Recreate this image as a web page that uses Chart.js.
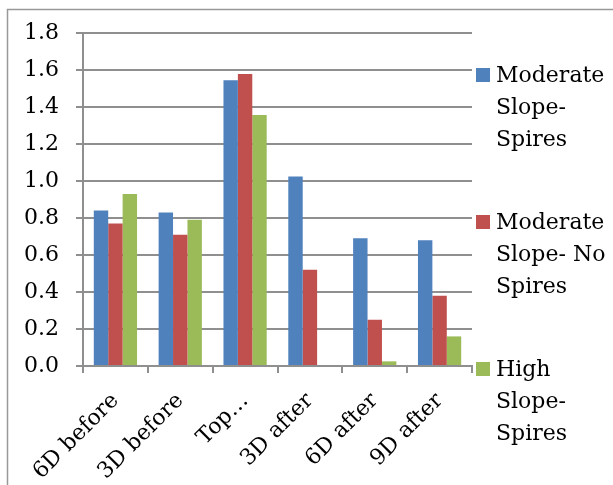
<!DOCTYPE html>
<html>
<head>
<meta charset="utf-8">
<script src="https://cdn.jsdelivr.net/npm/chart.js@4"></script>
<style>
  body { margin: 0; background: #fff; }
  canvas { display: block; }
</style>
</head>
<body>
<canvas id="chart" width="613" height="485"></canvas>
<script>
/* =========================
   DATA
   ========================= */

const categories = ["6D before", "3D before", "Top…", "3D after", "6D after", "9D after"];
const seriesNames = ["Moderate Slope-Spires", "Moderate Slope- No Spires", "High Slope-Spires"];
const moderateSpires = [0.84, 0.83, 1.545, 1.025, 0.69, 0.68];
const moderateNoSpires = [0.77, 0.71, 1.578, 0.52, 0.25, 0.38];
const highSpires = [0.93, 0.79, 1.357, 0, 0.025, 0.16];
const yTicks = [0, 0.2, 0.4, 0.6, 0.8, 1.0, 1.2, 1.4, 1.6, 1.8];

const colors = ["#4F81BD", "#C0504D", "#9BBB59"];
const gridColor = "#8f8f8f";
const serif = "'DejaVu Serif', serif";

/* =========================
   PLUGINS
   ========================= */

// thin frame around the whole chart, like the Excel chart area border
const frame = {
  id: "frame",
  beforeDraw(chart) {
    const c = chart.ctx;
    c.save();
    c.strokeStyle = "#999";
    c.lineWidth = 1.5;
    c.strokeRect(7.5, 9.5, 800, 600);
    c.restore();
  }
};

// wrap words, breaking after hyphens too
function wrapLabel(c, text, maxW) {
  const tokens = [];
  text.split(" ").forEach((w, i) => {
    w.split(/(?<=-)/).forEach((p, j) => tokens.push({ t: p, sp: i > 0 && j === 0 }));
  });
  const lines = [];
  let cur = "";
  tokens.forEach(tok => {
    const next = cur ? cur + (tok.sp ? " " : "") + tok.t : tok.t;
    if (cur && c.measureText(next).width > maxW) {
      lines.push(cur);
      cur = tok.t;
    } else {
      cur = next;
    }
  });
  if (cur) lines.push(cur);
  return lines;
}

const sideLegend = {
  id: "sideLegend",
  afterDraw(chart) {
    const c = chart.ctx;
    const x0 = chart.chartArea.right + 4;
    const lineH = 32;
    const pitch = 147;
    let y = 75;
    c.save();
    c.font = "22px " + serif;
    c.textBaseline = "middle";
    chart.data.datasets.forEach(ds => {
      c.fillStyle = ds.backgroundColor;
      c.fillRect(x0, y - 7, 14, 14);
      c.fillStyle = "#000";
      wrapLabel(c, ds.label, 116).forEach((ln, k) => {
        c.fillText(ln, x0 + 20, y + k * lineH + 1);
      });
      y += pitch;
    });
    c.restore();
  }
};

/* =========================
   CHART
   ========================= */

const seriesValues = [moderateSpires, moderateNoSpires, highSpires];

new Chart(document.getElementById("chart"), {
  type: "bar",
  data: {
    labels: categories,
    datasets: seriesNames.map((name, i) => ({
      label: name,
      data: seriesValues[i],
      backgroundColor: colors[i],
      categoryPercentage: 0.667,
      barPercentage: 1.0
    }))
  },
  options: {
    responsive: false,
    devicePixelRatio: 1,
    animation: false,
    layout: { padding: { left: 0, top: 33, right: 141, bottom: 0 } },
    plugins: {
      legend: { display: false },
      tooltip: { enabled: false }
    },
    scales: {
      x: {
        grid: { drawOnChartArea: false, tickLength: 7, color: gridColor, lineWidth: 2, offset: true },
        border: { color: gridColor, width: 2 },
        ticks: {
          color: "#000",
          font: { family: serif, size: 22 },
          maxRotation: 45,
          minRotation: 45,
          padding: 15,
          autoSkip: false
        },
        afterFit(scale) { scale.height = 119; }
      },
      y: {
        min: 0,
        max: 1.8,
        afterBuildTicks(scale) { scale.ticks = yTicks.map(v => ({ value: v })); },
        grid: { color: gridColor, lineWidth: 2, tickLength: 7 },
        border: { color: gridColor, width: 2 },
        ticks: {
          color: "#000",
          font: { family: serif, size: 22 },
          padding: 17,
          callback: v => v.toFixed(1)
        },
        afterFit(scale) { scale.width = 83; }
      }
    }
  },
  plugins: [frame, sideLegend]
});
</script>
</body>
</html>
